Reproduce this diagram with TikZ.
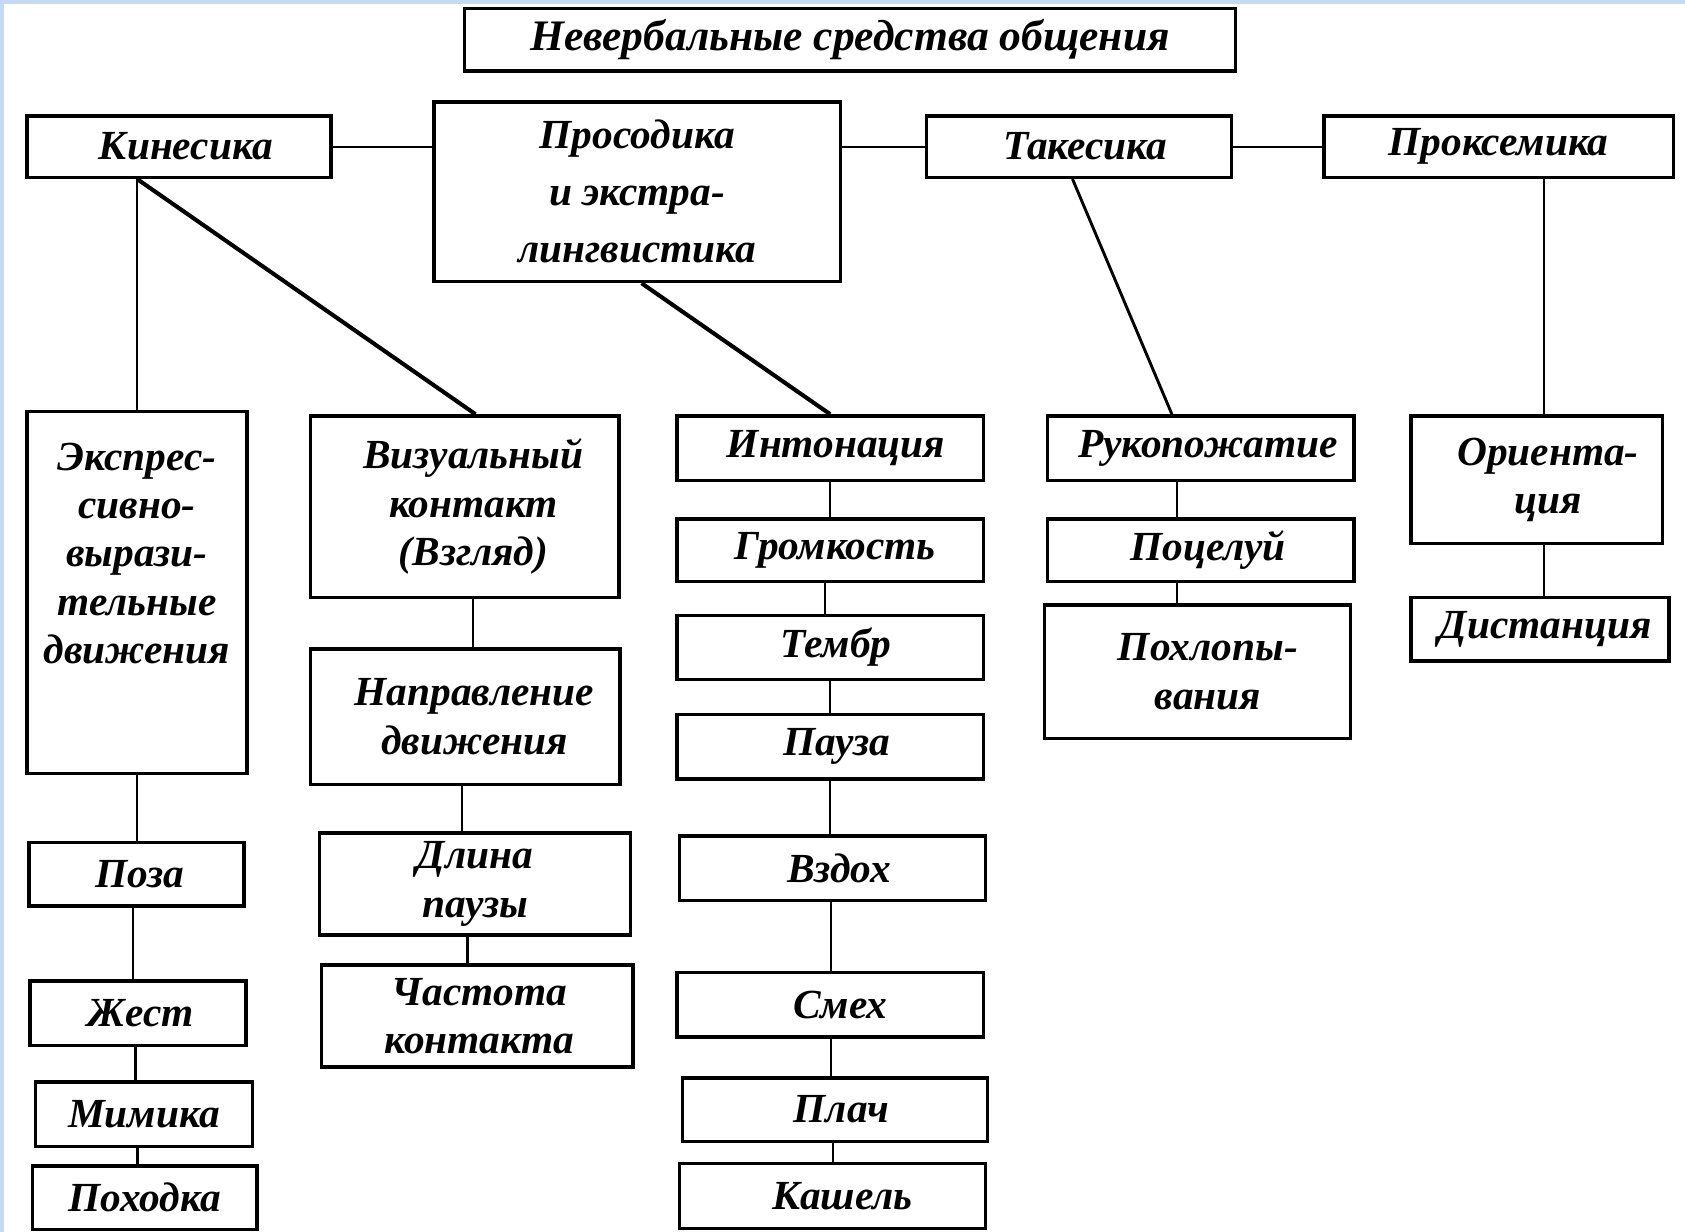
\documentclass[tikz,border=0pt]{standalone}
\usepackage{fontspec}
\setmainfont{Liberation Serif}
\usetikzlibrary{calc}
\definecolor{edgeblue}{HTML}{C6D9F1}
\newcommand{\sh}[1]{\hspace*{#1pt}}
\begin{document}
\begin{tikzpicture}[x=1pt,y=-1pt,
  box/.style={draw=black, line width=3.1pt, fill=white, inner sep=0pt, align=center,
    font=\bfseries\itshape\fontsize{38.5}{45}\selectfont},
  link/.style={draw=black, line width=2.2pt},
  diag/.style={draw=black, line width=3.8pt}]
\useasboundingbox (0,0) rectangle (1568,1146);
\fill[white] (0,0) rectangle (1568,1146);
\fill[edgeblue] (0,0) rectangle (1568,4);
\fill[edgeblue] (0,0) rectangle (4,1146);

% title
\node[box, minimum width=718, minimum height=58, font=\bfseries\itshape\fontsize{40.5}{45}\selectfont] (title) at (791,37) {Невербальные средства общения};

% top row
\node[box, minimum width=283, minimum height=57] (kin) at (166.5,136.5) {\sh{13}Кинесика};
\node[box, minimum width=378, minimum height=167, font=\bfseries\itshape\fontsize{38.5}{53}\selectfont] (pros) at (593,178.5) {Просодика\\и экстра-\\лингвистика};
\node[box, minimum width=284, minimum height=57] (tak) at (1004,136.5) {\sh{12}Такесика};
\node[box, minimum width=325, minimum height=57] (prox) at (1394.5,136.5) {Проксемика};

% second row
\node[box, minimum width=205, minimum height=337] (expr) at (127.5,551.5) {};
\node[font=\bfseries\itshape\fontsize{38.5}{45}\selectfont, align=center, inner sep=0pt] (exprtext) at (127.5,515) {Экспрес-\\сивно-\\вырази-\\тельные\\движения};
\node[box, minimum width=287, minimum height=169] (vis) at (432.5,471.5) {\sh{16}Визуальный\\\sh{16}контакт\\\sh{16}(Взгляд)};
\node[box, minimum width=285, minimum height=60] (inton) at (772.5,417) {\sh{11}Интонация};
\node[box, minimum width=285, minimum height=60] (ruk) at (1117.5,417) {\sh{13}Рукопожатие};
\node[box, minimum width=234, minimum height=119] (orient) at (1430,446.5) {\sh{21}Ориента-\\\sh{21}ция};

% kinesics column
\node[box, minimum width=200, minimum height=59] (poza) at (127,813.5) {\sh{6}Поза};
\node[box, minimum width=201, minimum height=60] (zhest) at (128.5,943) {\sh{5}Жест};
\node[box, minimum width=202, minimum height=60] (mimika) at (134,1037) {Мимика};
\node[box, minimum width=209, minimum height=59] (pohodka) at (134.5,1114.5) {Походка};

% visual column
\node[box, minimum width=288, minimum height=126] (napr) at (433,667) {\sh{17}Направление\\\sh{17}движения};
\node[box, minimum width=290, minimum height=95] (dlina) at (442,822.5) {Длина\\паузы};
\node[box, minimum width=290, minimum height=95] (chast) at (444,945.5) {\sh{4}Частота\\\sh{4}контакта};

% prosody column
\node[box, minimum width=285, minimum height=58] (grom) at (772.5,512) {\sh{9}Громкость};
\node[box, minimum width=285, minimum height=59] (temb) at (772.5,602.5) {\sh{11}Тембр};
\node[box, minimum width=285, minimum height=60] (pauza) at (772.5,695) {\sh{13}Пауза};
\node[box, minimum width=285, minimum height=60] (vzdoh) at (774.5,808) {\sh{13}Вздох};
\node[box, minimum width=285, minimum height=60] (smeh) at (772.5,935) {\sh{19}Смех};
\node[box, minimum width=284, minimum height=59] (plach) at (777,1032.5) {\sh{12}Плач};
\node[box, minimum width=285, minimum height=60] (kash) at (774.5,1113) {\sh{19}Кашель};

% takesics column
\node[box, minimum width=285, minimum height=58] (poc) at (1117.5,512) {\sh{13}Поцелуй};
\node[box, minimum width=285, minimum height=124] (pohlop) at (1114.5,625) {\sh{19}Похлопы-\\\sh{19}вания};

% proxemics column
\node[box, minimum width=240, minimum height=59] (dist) at (1433,585.5) {\sh{10}Дистанция};

% horizontal links
\draw[link] (kin.east) -- (kin.east -| pros.west);
\draw[link] (tak.west -| pros.east) -- (tak.west);
\draw[link] (tak.east) -- (prox.west);

% from top row down
\draw[link] (kin.south -| expr.north) -- (expr.north);
\draw[diag] (kin.south -| expr.north) -- ($(vis.north)+(10,0)$);
\draw[diag] ($(pros.south)+(4,0)$) -- (inton.north);
\draw[link, line width=2.7pt] ($(tak.south)+(-6,0)$) -- ($(ruk.north)+(-27,0)$);
\coordinate (po) at ($(orient.north)+(7,0)$);
\draw[link] (po |- prox.south) -- (po);

% kinesics chain
\draw[link] (expr.south) -- (expr.south |- poza.north);
\draw[link] ($(poza.south)+(-3,0)$) -- ($(zhest.north)+(-4.5,0)$);
\draw[link] ($(zhest.south)+(-2.5,0)$) -- ($(mimika.north)+(-8,0)$);
\draw[link] ($(mimika.south)+(-6,0)$) -- ($(pohodka.north)+(-6.5,0)$);

% visual chain
\draw[link] ($(vis.south)+(7.5,0)$) -- ($(napr.north)+(7,0)$);
\draw[link] ($(napr.south)+(-3,0)$) -- ($(dlina.north)+(-12,0)$);
\draw[link] ($(dlina.south)+(-7,0)$) -- ($(chast.north)+(-9,0)$);

% prosody chain
\draw[link] (inton.south) -- (grom.north);
\draw[link] ($(grom.south)+(-4.5,0)$) -- ($(temb.north)+(-4.5,0)$);
\draw[link] (temb.south) -- (pauza.north);
\draw[link] (pauza.south) -- (pauza.south |- vzdoh.north);
\draw[link] ($(vzdoh.south)+(-1.5,0)$) -- ($(smeh.north)+(0.5,0)$);
\draw[link] ($(smeh.south)+(0.5,0)$) -- ($(plach.north)+(-4,0)$);
\draw[link] ($(plach.south)+(-2,0)$) -- ($(kash.north)+(0.5,0)$);

% takesics chain
\draw[link] ($(ruk.south)+(-22.5,0)$) -- ($(poc.north)+(-22.5,0)$);
\draw[link] ($(poc.south)+(-22.5,0)$) -- ($(pohlop.north)+(-19.5,0)$);

% proxemics chain
\draw[link] (po |- orient.south) -- (po |- dist.north);
\end{tikzpicture}
\end{document}
